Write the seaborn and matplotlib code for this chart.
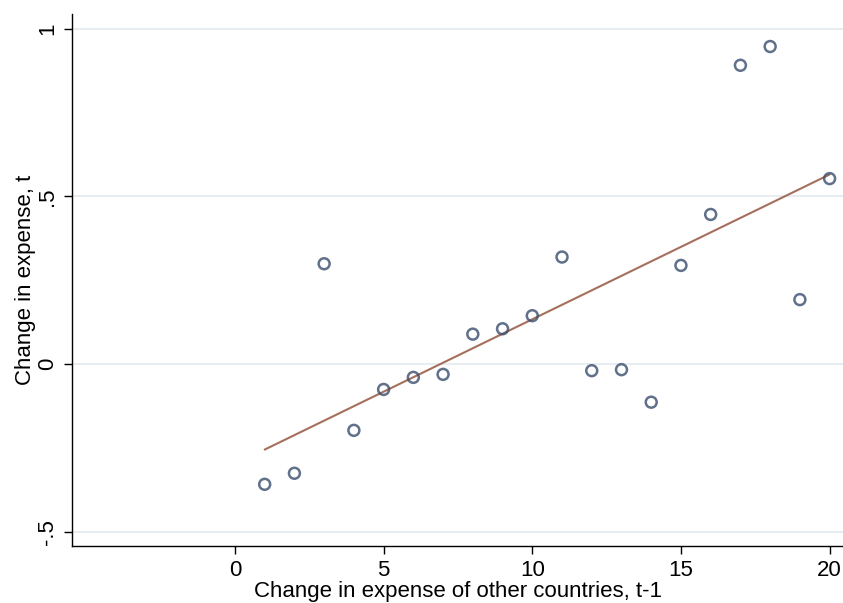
import matplotlib
matplotlib.use("Agg")
import matplotlib.pyplot as plt
import seaborn as sns
import numpy as np
import pandas as pd

# Lagged change in other countries' expense vs. own change in expense
lag_change = [1, 2, 3, 4, 5, 6, 7, 8, 9, 10,
              11, 12, 13, 14, 15, 16, 17, 18, 19, 20]
own_change = [-0.359, -0.326, 0.299, -0.198, -0.076, -0.040, -0.031, 0.089, 0.105, 0.144,
              0.319, -0.020, -0.017, -0.114, 0.294, 0.446, 0.891, 0.947, 0.192, 0.553]

x_ticks = [0, 5, 10, 15, 20]
y_ticks = [-0.5, 0, 0.5, 1]
y_tick_labels = ["-.5", "0", ".5", "1"]

df = pd.DataFrame({"x": lag_change, "y": own_change})

sns.set_style("white")
plt.rcParams["font.family"] = ["Liberation Sans", "DejaVu Sans"]
plt.rcParams["text.color"] = "black"
plt.rcParams["axes.labelcolor"] = "black"

fig = plt.figure(figsize=(8.43, 6.03), dpi=100)
ax = fig.add_axes([72 / 843, 1 - 546 / 603, 1 - 72 / 843, (546 - 14) / 603])

sns.regplot(
    data=df, x="x", y="y", ax=ax, ci=None,
    scatter_kws=dict(s=62, facecolors="none", edgecolors="#3a4e6e", linewidths=1.8, zorder=3),
    line_kws=dict(color="#a56f5c", linewidth=1.5, zorder=2),
)

ax.set_xlim(-5.48, 20.45)
ax.set_ylim(-0.543, 1.044)

ax.set_xticks(x_ticks)
ax.set_xticklabels([str(t) for t in x_ticks], fontsize=16)
ax.set_yticks(y_ticks)
ax.set_yticklabels(y_tick_labels, fontsize=16, rotation=90, va="center")

ax.yaxis.grid(True, color="#e8edf2", linewidth=1.5)
ax.xaxis.grid(False)
ax.set_axisbelow(True)

for side in ["top", "right"]:
    ax.spines[side].set_visible(False)
for side in ["left", "bottom"]:
    ax.spines[side].set_color("black")
    ax.spines[side].set_linewidth(1.0)

ax.tick_params(axis="both", which="major", direction="out", length=6, width=1.0,
               color="black", labelcolor="black", bottom=True, left=True, pad=4)

ax.set_xlabel("Change in expense of other countries, t-1", fontsize=16, labelpad=0)
ax.set_ylabel("Change in expense, t", fontsize=16, labelpad=1)

fig.savefig("out.png", dpi=100, facecolor="white")
